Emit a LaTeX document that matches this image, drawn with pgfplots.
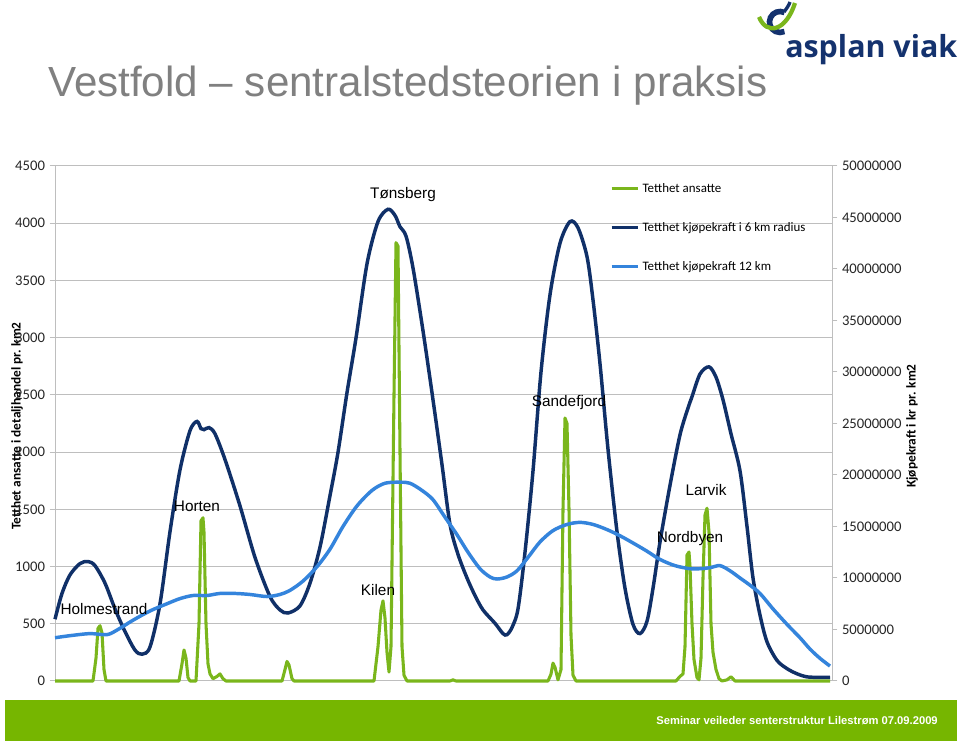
\documentclass[border=0pt]{standalone}
\usepackage{fontspec}
\setmainfont{Liberation Sans}
\newfontfamily\calibri{Carlito}
\newfontfamily\logofont{Open Sans}
\usepackage{graphicx}
\usepackage{pgfplots}
\pgfplotsset{compat=1.18}
\usepackage{pgfplotstable}

\definecolor{navyline}{RGB}{16,48,104}
\definecolor{bluel}{RGB}{52,132,220}
\definecolor{greenl}{RGB}{122,182,28}
\definecolor{footg}{RGB}{118,182,0}
\definecolor{titleg}{RGB}{128,128,128}
\definecolor{gridg}{RGB}{190,190,190}
\definecolor{logoblue}{RGB}{20,50,110}

% employees per km2 (left axis)
\pgfplotstableread{
pos L
0 0
38 0
41 200
43 460
45 483
47 420
49 100
51 0
124 0
127 150
129 271
131 200
133 30
135 0
141 0
144 500
146 1400
148 1426
149 1300
151 500
153 150
155 62
158 20
162 40
165 62
168 20
171 0
227 0
230 100
232 171
234 140
237 20
239 0
319 0
323 300
326 620
328 700
330 550
332 250
334 78
336 300
339 2500
341 3830
343 3800
345 2000
347 300
349 50
352 0
395 0
398 10
401 0
493 0
496 60
498 156
500 120
503 10
506 100
508 1500
510 2298
512 2250
514 1500
516 400
518 50
521 0
621 0
625 40
628 62
630 300
632 1100
634 1127
635 1000
637 500
639 187
642 30
644 10
646 200
648 900
650 1450
652 1510
654 1300
656 500
658 250
661 100
664 20
667 0
672 10
676 37
680 0
775 0
}\ansatte

% purchasing power, 6 km radius (right axis)
\pgfplotstableread{
pos R
0 6000000
7 8500000
15 10300000
25 11400000
33 11600000
40 11200000
50 9500000
60 7000000
70 4800000
80 3000000
87 2600000
95 3300000
105 7500000
115 14500000
125 20500000
135 24300000
142 25200000
146 24500000
149 24400000
154 24600000
160 24000000
170 21500000
185 17000000
200 12000000
215 8200000
225 6900000
233 6600000
245 7300000
255 9500000
265 13000000
275 18000000
283 22200000
292 28000000
301 33300000
312 40500000
323 44600000
333 45800000
340 45200000
345 44100000
351 43200000
358 40100000
368 34000000
378 27300000
387 21000000
395 15200000
403 12300000
412 10000000
420 8300000
428 6900000
440 5600000
448 4600000
452 4500000
457 5200000
463 7000000
470 12500000
478 20400000
486 30000000
495 37500000
505 42500000
515 44600000
523 44000000
532 41200000
538 37000000
545 30800000
553 22500000
562 14500000
570 9000000
578 5500000
585 4600000
592 5800000
598 9000000
605 13500000
615 19000000
625 23900000
633 26500000
637 27600000
645 29800000
654 30500000
661 29500000
668 27300000
676 24000000
685 20400000
692 15000000
698 10000000
705 6400000
712 3800000
722 2000000
732 1200000
742 700000
752 400000
765 350000
775 350000
}\kraftsix

% purchasing power, 12 km (right axis)
\pgfplotstableread{
pos R
0 4200000
15 4400000
35 4600000
52 4500000
63 5000000
78 5900000
95 6800000
112 7500000
125 8000000
138 8300000
152 8300000
165 8500000
180 8500000
195 8400000
212 8200000
225 8400000
235 8800000
248 9700000
262 11100000
275 12800000
288 15000000
302 17000000
317 18500000
330 19200000
345 19300000
355 19200000
367 18500000
378 17600000
390 15900000
402 14200000
413 12500000
425 10900000
435 10100000
442 9900000
452 10100000
462 10700000
473 12000000
485 13500000
498 14600000
512 15200000
525 15400000
538 15200000
552 14700000
565 14100000
578 13400000
592 12600000
605 11800000
620 11200000
635 10900000
645 10900000
655 11000000
665 11200000
675 10700000
685 10000000
695 9300000
705 8500000
718 7000000
732 5500000
745 4200000
755 3100000
765 2200000
775 1450000
}\krafttwelve

\begin{document}
\begin{tikzpicture}
\begin{scope}[x=0.75pt,y=0.75pt]
\fill[white] (0,0) rectangle (960,741);
\fill[footg] (5,0) rectangle (957,41);
\node[white, anchor=east, inner sep=0, font=\bfseries\fontsize{8.4}{10}\selectfont] at (938,20) {Seminar veileder senterstruktur Lilestrøm 07.09.2009};
\node[titleg, anchor=base west, inner sep=0, font=\fontsize{31.6}{36}\selectfont] at (48,644) {Vestfold – sentralstedsteorien i praksis};
% logo
\draw[logoblue, line width=4.2] (780,719) ++(65:10.5) arc (65:295:10.5);
\draw[logoblue, line width=2.5] (784,729) .. controls (787,733) and (789,736) .. (790,739);
\draw[greenl, line width=3.2] (759,724) .. controls (767,705) and (786,710) .. (795,738);
\node[logoblue, anchor=base west, inner sep=0] at (785,683) {\resizebox{129pt}{!}{\logofont\bfseries asplan viak}};
% axis titles
\node[rotate=90, font=\calibri\bfseries\fontsize{10}{12}\selectfont] at (17,315) {Tetthet ansatte i detaljhandel pr. km2};
\node[rotate=90, font=\calibri\bfseries\fontsize{10}{12}\selectfont] at (912,315) {Kjøpekraft i kr pr. km2};
\end{scope}

\begin{axis}[
    at={(41.25pt,45pt)}, anchor=south west,
    width=582.75pt, height=386.25pt, scale only axis,
    xmin=0, xmax=777, ymin=0, ymax=4500,
    xtick=\empty,
    ytick={0,500,1000,1500,2000,2500,3000,3500,4000,4500},
    axis y line*=left, axis x line*=bottom,
    y axis line style={gridg, line width=0.75pt, -},
    x axis line style={gridg, line width=0.75pt, -},
    ymajorgrids, grid style={gridg, line width=0.75pt},
    major tick length=4pt, tick align=outside,
    tick style={gridg, line width=0.75pt},
    yticklabel style={/pgf/number format/1000 sep={}, font=\calibri\fontsize{11}{12}\selectfont, text=black!85},
    /pgf/number format/assume math mode=true,
    clip=false,
]
\addplot[greenl, line width=2.3pt, line join=round] table[x=pos, y=L] {\ansatte};
\end{axis}

\begin{axis}[
    at={(41.25pt,45pt)}, anchor=south west,
    width=582.75pt, height=386.25pt, scale only axis,
    xmin=0, xmax=777, ymin=0, ymax=50000000,
    xtick=\empty,
    ytick={0,5000000,10000000,15000000,20000000,25000000,30000000,35000000,40000000,45000000,50000000},
    scaled y ticks=false,
    yticklabel style={/pgf/number format/fixed, /pgf/number format/precision=0, /pgf/number format/1000 sep={}, font=\calibri\fontsize{11}{12}\selectfont, text=black!85},
    /pgf/number format/assume math mode=true,
    axis y line*=right, axis x line=none,
    y axis line style={gridg, line width=0.75pt, -},
    major tick length=4pt, tick align=outside,
    tick style={gridg, line width=0.75pt},
    clip=false,
    legend cell align=left,
    legend style={at={(axis description cs:0.714,0.972)}, anchor=north west, draw=none, fill=none,
        font=\calibri\fontsize{9.7}{11}\selectfont, row sep=17pt, inner sep=0pt},
    legend image code/.code={\draw[#1, line width=2.4pt] (0pt,0pt) -- (20pt,0pt);},
]
\addlegendimage{greenl}
\addlegendentry{Tetthet ansatte}
\addplot[navyline, line width=2.6pt, smooth] table[x=pos, y=R] {\kraftsix};
\addlegendentry{Tetthet kjøpekraft i 6 km radius}
\addplot[bluel, line width=2.6pt, smooth] table[x=pos, y=R] {\krafttwelve};
\addlegendentry{Tetthet kjøpekraft 12 km}
\node[font=\fontsize{11.5}{13}\selectfont] at (axis cs:348,47200000) {Tønsberg};
\node[font=\fontsize{11.5}{13}\selectfont] at (axis cs:514,27000000) {Sandefjord};
\node[font=\fontsize{11.5}{13}\selectfont] at (axis cs:651,18550000) {Larvik};
\node[font=\fontsize{11.5}{13}\selectfont] at (axis cs:635,13800000) {Nordbyen};
\node[font=\fontsize{11.5}{13}\selectfont] at (axis cs:142,17000000) {Horten};
\node[font=\fontsize{11.5}{13}\selectfont] at (axis cs:323,8830000) {Kilen};
\node[font=\fontsize{11.5}{13}\selectfont] at (axis cs:49,6990000) {Holmestrand};
\end{axis}
\end{tikzpicture}
\end{document}
